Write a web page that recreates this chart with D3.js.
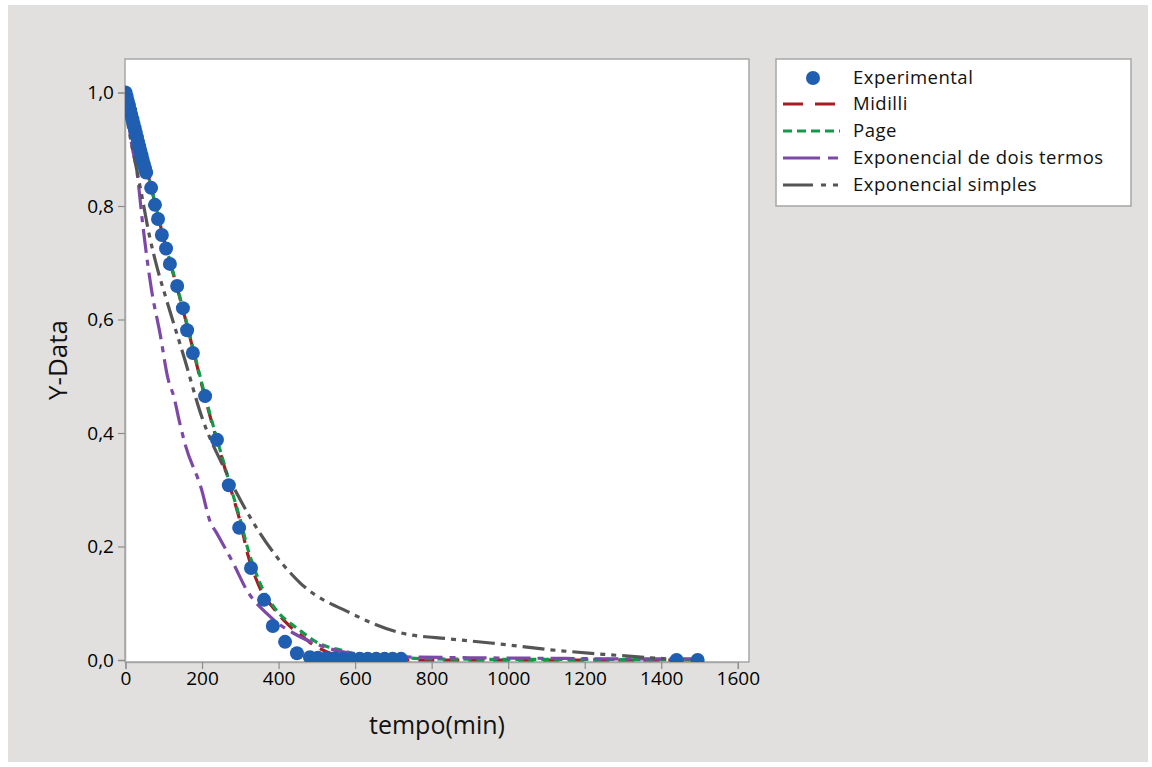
<!DOCTYPE html>
<html><head><meta charset="utf-8">
<script src="https://cdn.jsdelivr.net/npm/d3@7"></script>
<style>body{margin:0;background:#fff}svg{display:block}text{font-family:"Open Sans","Noto Sans",sans-serif}</style>
</head><body><svg id="c" width="1152" height="767"></svg>
<script>
// ---- data ----
const expTime = [0,3,6,9,12,15,18,21,24,27,30,33,36,39,42,45,48,51,54,
  67,77,85,95,106,116,135,150,161,176,208,239,270,297,328,362,385,417,448,
  482,503,525,547,568,590,612,633,655,677,698,720,1440,1495];
const expY = [1.0,0.993,0.985,0.977,0.969,0.961,0.953,0.945,0.937,0.929,0.921,0.913,0.905,0.897,0.889,0.881,0.873,0.866,0.859,
  0.832,0.802,0.777,0.749,0.725,0.698,0.659,0.620,0.581,0.541,0.465,0.388,0.308,0.233,0.162,0.106,0.060,0.032,0.012,
  0.005,0.004,0.003,0.003,0.002,0.002,0.002,0.002,0.002,0.002,0.002,0.002,0.0,0.0];

const midilliT = [0,20,40,60,80,100,120,140,160,180,200,220,240,260,280,300,320,340,360,380,400,420,440,460,480,500,535,570,600,650,700,800,1000,1200,1500];
const midilliY = [1.0,0.955,0.905,0.852,0.797,0.742,0.692,0.643,0.592,0.537,0.483,0.432,0.384,0.337,0.29,0.243,0.185,0.145,0.115,0.097,0.080,0.066,0.053,0.043,0.032,0.023,0.012,0.006,0.003,0.001,0.0,0.0,0.0,0.0,0.0];

const pageT = [0,20,40,60,80,100,120,140,160,180,200,220,240,260,280,300,320,340,360,380,400,420,440,460,480,500,530,560,600,700,800,1000,1200,1500];
const pageY = [1.0,0.957,0.907,0.853,0.798,0.744,0.694,0.645,0.594,0.540,0.486,0.435,0.387,0.340,0.293,0.247,0.195,0.155,0.123,0.101,0.083,0.070,0.060,0.050,0.040,0.031,0.023,0.018,0.011,0.005,0.002,0.001,0.001,0.0];

const twoTermT = [0,5,15,30,45,68,90,112,125,142,155,199,221,238,282,317,369,456,491,587,700,900,1100,1300,1500];
const twoTermY = [0.99,0.965,0.913,0.860,0.768,0.652,0.576,0.493,0.467,0.417,0.382,0.300,0.244,0.224,0.170,0.123,0.082,0.041,0.030,0.012,0.006,0.004,0.003,0.002,0.002];

const simplesT = [0,10,24,41,63,84,107,155,199,260,351,456,587,718,849,954,1111,1250,1373,1440];
const simplesY = [0.975,0.93,0.882,0.824,0.746,0.688,0.635,0.529,0.429,0.335,0.224,0.136,0.083,0.048,0.037,0.030,0.018,0.010,0.004,0.001];

const xTicks = [0,200,400,600,800,1000,1200,1400,1600];
const yTicks = [0,0.2,0.4,0.6,0.8,1.0];
const seriesNames = ["Experimental","Midilli","Page","Exponencial de dois termos","Exponencial simples"];
const seriesColors = ["#1f5eb0","#a51d23","#139a48","#7e48a8","#555555"];
const seriesDash = [null,"16,9","8,5","24,7,6,7","22,6,5,6,5,6"];

// ---- layout ----
const svg = d3.select("#c");
const L = 125, R = 749, T = 59, B = 662;
const x = d3.scaleLinear().domain([0,1600]).range([125.5,737.8]);
const y = d3.scaleLinear().domain([0,1]).range([660,92.5]);

svg.append("rect").attr("x",8).attr("y",5).attr("width",1140).attr("height",757).attr("fill","#e1e0de");
svg.append("rect").attr("x",L).attr("y",T).attr("width",R-L).attr("height",B-T).attr("fill","#fff")
  .attr("stroke","#a6a6a6").attr("stroke-width",1.5);

svg.append("defs").append("clipPath").attr("id","clip").append("rect")
  .attr("x",L).attr("y",T).attr("width",R-L).attr("height",B-T);

// axes
const xAxis = svg.append("g").attr("transform",`translate(0,${B})`)
  .call(d3.axisBottom(x).tickValues(xTicks).tickSize(7).tickPadding(3).tickFormat(d3.format("d")));
const yAxis = svg.append("g").attr("transform",`translate(${L},0)`)
  .call(d3.axisLeft(y).tickValues(yTicks).tickSize(7).tickPadding(4).tickFormat(d => d3.format(".1f")(d).replace(".",",")));
[xAxis,yAxis].forEach(g=>{
  g.select(".domain").attr("stroke","#a6a6a6").attr("stroke-width",1.5);
  g.selectAll(".tick line").attr("stroke","#8c8c8c").attr("stroke-width",1.2);
  g.selectAll(".tick text").attr("fill","#000").style("font-size","19px").style("font-family",'"Open Sans","Noto Sans",sans-serif');
});

svg.append("text").attr("x",437).attr("y",734).attr("text-anchor","middle")
  .style("font-size","25px").attr("fill","#111").text("tempo(min)");
svg.append("text").attr("transform","translate(67,360) rotate(-90)").attr("text-anchor","middle")
  .style("font-size","26px").attr("fill","#111").text("Y-Data");

// curves
const plot = svg.append("g").attr("clip-path","url(#clip)");
const line = d3.line().x(d=>x(d[0])).y(d=>y(d[1])).curve(d3.curveMonotoneX);
const curves = [
  [midilliT,midilliY,1],[pageT,pageY,2],[twoTermT,twoTermY,3],[simplesT,simplesY,4]
];
curves.forEach(([ts,vs,i])=>{
  plot.append("path").datum(ts.map((t,k)=>[t,vs[k]])).attr("d",line)
    .attr("fill","none").attr("stroke",seriesColors[i]).attr("stroke-width",3.2)
    .attr("stroke-dasharray",seriesDash[i]);
});
plot.selectAll("circle.exp").data(expTime.map((t,k)=>[t,expY[k]])).join("circle")
  .attr("class","exp").attr("cx",d=>x(d[0])).attr("cy",d=>y(d[1])).attr("r",7)
  .attr("fill",seriesColors[0]);

// legend
const lg = svg.append("g");
lg.append("rect").attr("x",776).attr("y",59).attr("width",355).attr("height",147)
  .attr("fill","#fff").attr("stroke","#a6a6a6").attr("stroke-width",1.5);
const rowsY = [78,104,131,158,185];
seriesNames.forEach((n,i)=>{
  if(i===0){
    lg.append("circle").attr("cx",813).attr("cy",rowsY[i]).attr("r",7).attr("fill",seriesColors[0]);
  } else {
    lg.append("line").attr("x1",783).attr("x2",840).attr("y1",rowsY[i]).attr("y2",rowsY[i])
      .attr("stroke",seriesColors[i]).attr("stroke-width",3.2).attr("stroke-dasharray",
        i===1?"20,12":i===2?"9,5":i===3?"37,8,10,8":"30,8,5,7,5,7");
  }
  lg.append("text").attr("x",853).attr("y",rowsY[i]+6).style("font-size","18.5px")
    .style("letter-spacing","0.5px").attr("fill","#111").text(n);
});
</script></body></html>
